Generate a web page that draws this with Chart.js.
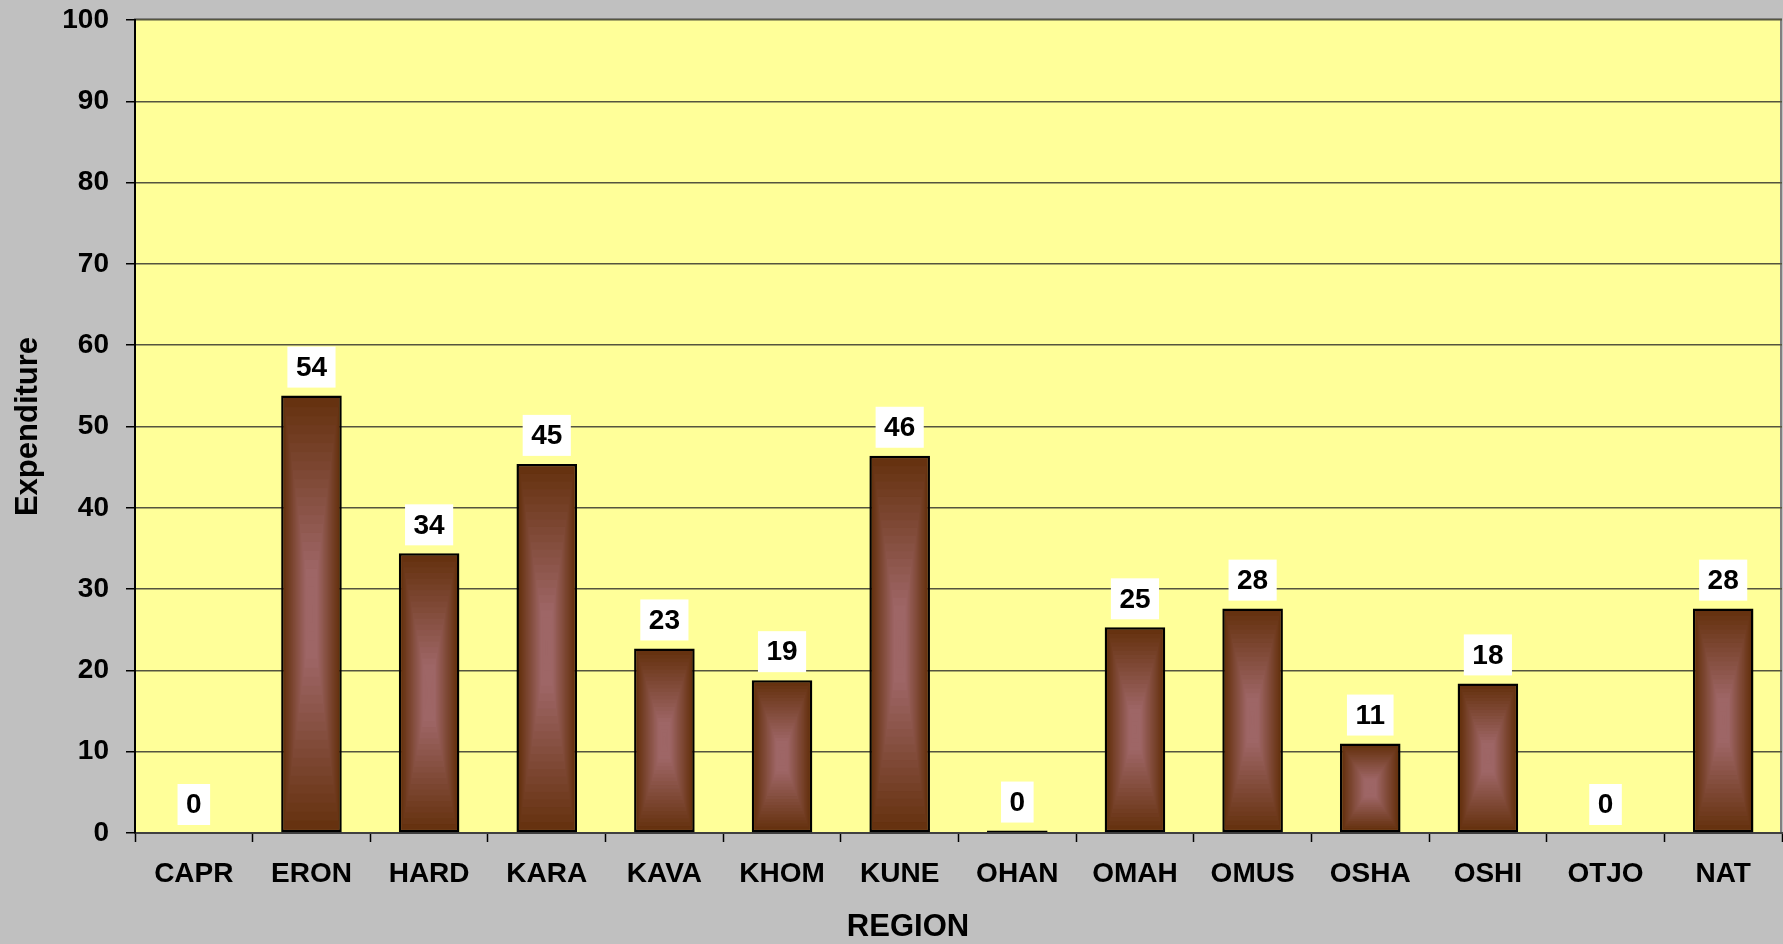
<!DOCTYPE html>
<html>
<head>
<meta charset="utf-8">
<script src="https://cdn.jsdelivr.net/npm/chart.js@4/dist/chart.umd.min.js"></script>
<style>
	html, body { margin: 0; padding: 0; background: #c0c0c0; }
	canvas { display: block; }
</style>
</head>
<body>
<canvas id="chart" width="1783" height="944"></canvas>
<script>
const regions = ["CAPR", "ERON", "HARD", "KARA", "KAVA", "KHOM", "KUNE", "OHAN", "OMAH", "OMUS", "OSHA", "OSHI", "OTJO", "NAT"];
const expenditure = [0, 53.8, 34.4, 45.4, 22.7, 18.8, 46.4, 0.3, 25.3, 27.6, 11.0, 18.4, 0, 27.6];
const yMin = 0;
const yMax = 100;
const yStep = 10;
const yTitle = "Expenditure";
const xTitle = "REGION";

(() => {
	const FONT = "'Liberation Sans', Arial, sans-serif";
	const edgeColor = [102, 50, 16];
	const centerColor = [158, 102, 102];

	function mix(a, b, t) {
		return "rgb(" + a.map((v, i) => Math.round(v + (b[i] - v) * t)).join(",") + ")";
	}

	// plot background + grey frame
	const plotArea = {
		id: "plotArea",
		beforeDraw(chart) {
			const { ctx, chartArea: a } = chart;
			ctx.save();
			ctx.fillStyle = "#ffff99";
			ctx.fillRect(a.left, a.top, a.right - a.left, a.bottom - a.top);
			ctx.strokeStyle = "#808080";
			ctx.lineWidth = 2;
			ctx.strokeRect(a.left, a.top - 1, a.right - a.left - 1, a.bottom - a.top + 1);
			ctx.restore();
		},
	};

	// "from center" stepped gradient on the bars, then the value boxes
	const barDecor = {
		id: "barDecor",
		afterDatasetsDraw(chart) {
			const { ctx } = chart;
			const meta = chart.getDatasetMeta(0);
			const bw = 2.5;
			ctx.save();
			meta.data.forEach((bar, i) => {
				const { x, y, base, width } = bar.getProps(["x", "y", "base", "width"], true);
				const top = Math.min(y, base);
				const h = Math.abs(base - y);
				const iw = width - 2 * bw;
				const ih = h - 2 * bw;
				if (ih > 1) {
					const steps = 24;
					for (let s = 0; s < steps; s++) {
						const t = s / steps;
						const dx = (t * iw) / 2;
						const dy = (t * ih) / 2;
						const k = Math.min(1, t / 0.78);
						ctx.fillStyle = mix(edgeColor, centerColor, k);
						ctx.fillRect(x - iw / 2 + dx, top + bw + dy, iw - 2 * dx, ih - 2 * dy);
					}
				}

				const label = String(Math.round(expenditure[i]));
				ctx.font = "bold 28px " + FONT;
				const tw = ctx.measureText(label).width;
				const boxW = tw + 17;
				const boxH = 41;
				const boxBottom = top - 8;
				ctx.fillStyle = "#ffffff";
				ctx.fillRect(x - boxW / 2, boxBottom - boxH, boxW, boxH);
				ctx.fillStyle = "#000000";
				ctx.textAlign = "center";
				ctx.textBaseline = "middle";
				ctx.fillText(label, x, boxBottom - boxH / 2 + 1);
			});
			ctx.restore();
		},
	};

	const xTitleDraw = {
		id: "xTitleDraw",
		afterDraw(chart) {
			const { ctx } = chart;
			ctx.save();
			ctx.font = "bold 31px " + FONT;
			ctx.fillStyle = "#000000";
			ctx.textAlign = "center";
			ctx.textBaseline = "middle";
			ctx.fillText(xTitle, 908, 927);
			ctx.restore();
		},
	};

	const ctx = document.getElementById("chart");

	new Chart(ctx, {
		type: "bar",
		data: {
			labels: regions,
			datasets: [
				{
					label: yTitle,
					data: expenditure,
					backgroundColor: "rgb(102,50,16)",
					borderColor: "#000000",
					borderWidth: 2.5,
					borderSkipped: false,
					barPercentage: 0.515,
					categoryPercentage: 1,
				},
			],
		},
		options: {
			responsive: false,
			devicePixelRatio: 1,
			animation: false,
			layout: {
				padding: { top: 20, right: 1, left: 0, bottom: 0 },
			},
			plugins: {
				legend: { display: false },
				tooltip: { enabled: false },
			},
			scales: {
				x: {
					offset: true,
					afterFit: (scale) => {
						scale.height = 111;
						scale.paddingLeft = 0;
						scale.paddingRight = 0;
					},
					grid: {
						offset: true,
						drawOnChartArea: false,
						drawTicks: true,
						tickLength: 9,
						tickColor: "#000000",
						tickWidth: 1.5,
					},
					border: { color: "#404040", width: 2 },
					ticks: {
						color: "#000000",
						font: { family: FONT, size: 28, weight: "bold" },
						padding: 15,
						maxRotation: 0,
						autoSkip: false,
					},
				},
				y: {
					min: yMin,
					max: yMax,
					afterFit: (scale) => {
						scale.width = 135;
						scale.paddingTop = 0;
						scale.paddingBottom = 0;
					},
					grid: {
						color: "#55553f",
						lineWidth: 1.5,
						tickColor: "#000000",
						tickLength: 9,
						tickWidth: 1.5,
					},
					border: { color: "#000000", width: 2 },
					ticks: {
						stepSize: yStep,
						color: "#000000",
						font: { family: FONT, size: 28, weight: "bold" },
						padding: 17,
					},
					title: {
						display: true,
						text: yTitle,
						color: "#000000",
						font: { family: FONT, size: 31, weight: "bold" },
						padding: { top: 10, bottom: 0 },
					},
				},
			},
		},
		plugins: [plotArea, barDecor, xTitleDraw],
	});
})();
</script>
</body>
</html>
